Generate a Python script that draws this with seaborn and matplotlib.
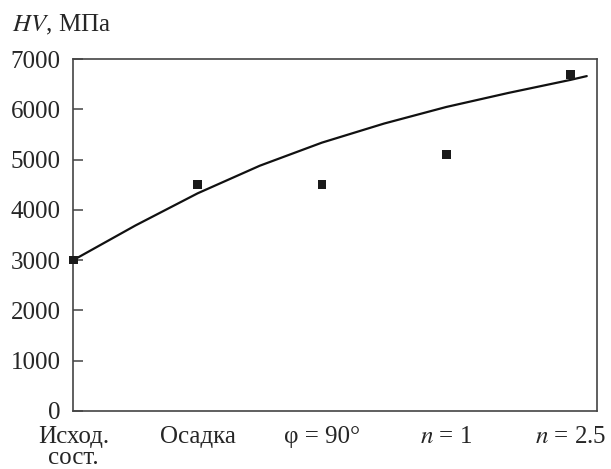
import numpy as np
import pandas as pd
import matplotlib
matplotlib.use('Agg')
from matplotlib import pyplot as plt
import seaborn as sns

# DATA
categories = ['Исход.\nсост.', 'Осадка', 'φ = 90°', '$n$ = 1', '$n$ = 2.5']
hv_points = [3000, 4500, 4500, 5100, 6700]

# trend curve (x in category units)
trend_x = [0.0, 0.5, 1.0, 1.5, 2.0, 2.5, 3.0, 3.5, 4.0, 4.13]
trend_y = [3000, 3690, 4330, 4880, 5340, 5720, 6050, 6330, 6590, 6665]

y_ticks = [0, 1000, 2000, 3000, 4000, 5000, 6000, 7000]

# STYLE
sns.set_style('white')
plt.rcParams['font.family'] = ['Liberation Serif', 'DejaVu Serif']
plt.rcParams['mathtext.fontset'] = 'stix'
plt.rcParams['font.size'] = 18

df_pts = pd.DataFrame({'x': np.arange(len(hv_points)), 'hv': hv_points})
df_trend = pd.DataFrame({'x': trend_x, 'hv': trend_y})

fig = plt.figure(figsize=(6.11, 4.69), dpi=100)
ax = fig.add_axes([0.12, 0.1243, 0.8566, 0.7493])

sns.lineplot(data=df_trend, x='x', y='hv', ax=ax, color='#111111',
             linewidth=1.6, sort=False)
sns.scatterplot(data=df_pts, x='x', y='hv', ax=ax, marker='s', s=40,
                color='#1a1a1a', edgecolor='none', clip_on=False, zorder=5)

ax.set_xlim(0, 4.21)
ax.set_ylim(0, 7000)
ax.set_yticks(y_ticks)
ax.set_yticklabels([str(v) for v in y_ticks])
ax.set_xticks(range(len(categories)))
ax.set_xticklabels(categories)
for lbl in ax.get_xticklabels():
    lbl.set_linespacing(0.95)

ax.tick_params(axis='y', direction='in', length=7, width=1.1,
               color='#444444', pad=9, labelsize=18, left=True)
ax.tick_params(axis='x', length=0, pad=11, labelsize=18)

ax.set_xlabel('')
ax.set_ylabel('')

for side in ['left', 'bottom', 'top', 'right']:
    ax.spines[side].set_visible(True)
    ax.spines[side].set_color('#444444')
    ax.spines[side].set_linewidth(1.2)

fig.text(0.02, 0.947, r'$\mathit{HV}$, МПа', fontsize=18, va='center', ha='left')

fig.savefig('out.png', dpi=100)
plt.close()
